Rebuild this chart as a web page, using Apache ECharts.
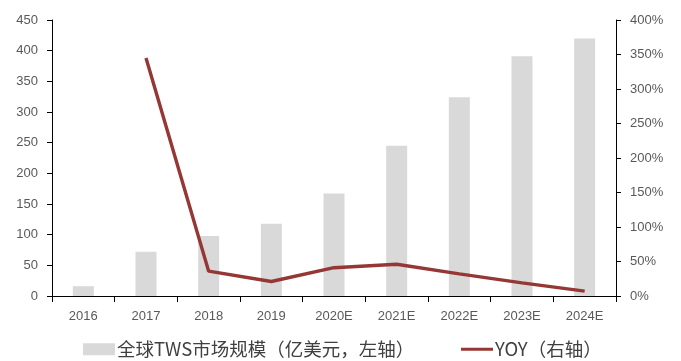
<!DOCTYPE html>
<html>
<head>
<meta charset="utf-8">
<script src="https://cdn.jsdelivr.net/npm/echarts@6/dist/echarts.min.js"></script>
<style>
  html, body { margin: 0; padding: 0; background: #fff; }
  #chart { width: 681px; height: 361px; }
</style>
</head>
<body>
<div id="chart"></div>
<script>
// Global TWS market size (USD 100m) and year-over-year growth
const years = ['2016', '2017', '2018', '2019', '2020E', '2021E', '2022E', '2023E', '2024E'];
const marketSize = [16, 72, 98, 118, 167, 245, 324, 391, 420];
const yoyPct = [null, 345, 36, 21, 41, 46, 32, 19, 7];

const barName = '全球TWS市场规模（亿美元，左轴）';
const lineName = 'YOY（右轴）';

const labelFont = { color: '#595959', fontSize: 13, fontFamily: 'Liberation Sans, Arial, sans-serif' };
const legendFont = { color: '#404040', fontSize: 18.5, fontFamily: 'Noto Sans CJK SC, sans-serif', padding: [0, 0, 0, -3] };
const axisLine = { show: true, lineStyle: { color: '#000', width: 1 } };

const chart = echarts.init(document.getElementById('chart'));
chart.setOption({
  animation: false,
  grid: { left: 52, right: 65, top: 20, bottom: 65 },
  legend: [
    {
      left: 78,
      top: 335,
      itemWidth: 32,
      itemHeight: 12,
      textStyle: legendFont,
      data: [{ name: barName, icon: 'rect' }]
    },
    {
      left: 456,
      top: 335,
      itemWidth: 32,
      itemHeight: 3,
      textStyle: legendFont,
      data: [{ name: lineName, icon: 'rect' }]
    }
  ],
  xAxis: {
    type: 'category',
    data: years,
    axisLine: axisLine,
    axisTick: { show: true, length: 6, lineStyle: { color: '#000' } },
    axisLabel: Object.assign({ margin: 14 }, labelFont)
  },
  yAxis: [
    {
      type: 'value',
      min: 0, max: 450, interval: 50,
      axisLine: axisLine,
      axisTick: { show: true, length: 5, lineStyle: { color: '#000' } },
      splitLine: { show: false },
      axisLabel: Object.assign({ margin: 14 }, labelFont)
    },
    {
      type: 'value',
      min: 0, max: 400, interval: 50,
      position: 'right',
      axisLine: axisLine,
      axisTick: { show: true, length: 5, lineStyle: { color: '#000' } },
      splitLine: { show: false },
      axisLabel: Object.assign({ margin: 14, formatter: '{value}%' }, labelFont)
    }
  ],
  series: [
    {
      name: barName,
      type: 'bar',
      data: marketSize,
      barWidth: 21,
      itemStyle: { color: '#d9d9d9' }
    },
    {
      name: lineName,
      type: 'line',
      yAxisIndex: 1,
      data: yoyPct,
      symbol: 'none',
      lineStyle: { color: '#953735', width: 3.4 },
      itemStyle: { color: '#953735' }
    }
  ]
});
</script>
</body>
</html>
